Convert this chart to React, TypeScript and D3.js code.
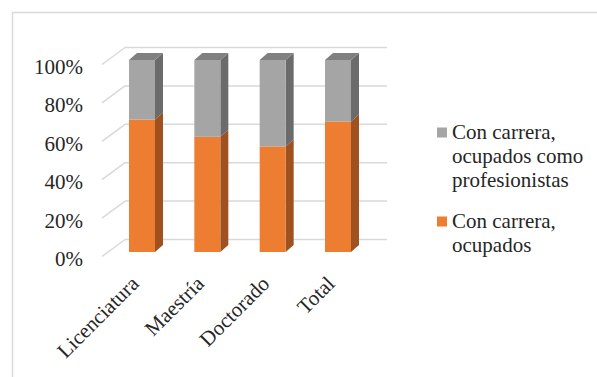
import React from "react";
import * as d3 from "d3";

const categories = ["Licenciatura", "Maestría", "Doctorado", "Total"];
const ocupados = [0.69, 0.6, 0.55, 0.68];
const profesionistas = [0.31, 0.4, 0.45, 0.32];
const yTicks = [0, 0.2, 0.4, 0.6, 0.8, 1];
const seriesNames = ["Con carrera, ocupados como profesionistas", "Con carrera, ocupados"];

const W = 597;
const H = 377;
const textStyle: React.CSSProperties = {
  fontFamily: '"Liberation Serif", "DejaVu Serif", serif',
  fontSize: 21,
};

const ORANGE = { front: "#ed7d31", side: "#9f521f" };
const GRAY = { front: "#a5a5a5", side: "#6b6b6b", top: "#808080" };

export default function App() {
  const y = d3.scaleLinear().domain([0, 1]).range([252, 60]);
  const x = d3.scalePoint<string>().domain(categories).range([142, 338]);
  const barW = 26;
  const depthX = 8;
  const depthY = -7;

  const wallX0 = 125;
  const wallX1 = 387;
  const floorX = 102;

  const poly = (pts: [number, number][]) => pts.map((p) => p.join(",")).join(" ");

  const legendItems = [
    { lines: ["Con carrera,", "ocupados como", "profesionistas"], base: 139, col: GRAY.front },
    { lines: ["Con carrera,", "ocupados"], base: 228, col: ORANGE.front },
  ];

  return (
    <svg
      width={W}
      height={H}
      style={{ position: "absolute", left: 0, top: 0, background: "#fff" }}
    >
      <rect x={12.5} y={12.5} width={W} height={H} fill="#fff" stroke="#d9d9d9" strokeWidth={1.5} />

      {/* gridlines: back wall plus floor diagonals */}
      {yTicks.map((t) => (
        <g key={t} stroke="#d9d9d9" strokeWidth={1.5} fill="none">
          <line x1={wallX0} x2={wallX1} y1={y(t) - 12.5} y2={y(t) - 12.5} />
          <line x1={floorX} y1={y(t) + 4.5} x2={wallX0} y2={y(t) - 12.5} />
        </g>
      ))}

      {/* y axis labels */}
      {yTicks.map((t) => (
        <text key={t} x={83} y={y(t) + 14} textAnchor="end" style={textStyle} fill="#262626">
          {d3.format(".0%")(t)}
        </text>
      ))}

      {/* stacked 3D bars */}
      {categories.map((c, i) => {
        const x0 = (x(c) as number) - barW / 2;
        const x1 = x0 + barW;
        const segs = [
          { lo: 0, hi: ocupados[i], col: ORANGE },
          { lo: ocupados[i], hi: ocupados[i] + profesionistas[i], col: GRAY },
        ];
        return (
          <g key={c}>
            {segs.map((s, j) => {
              const yb = y(s.lo);
              const yt = y(s.hi);
              return (
                <g key={j}>
                  <polygon
                    points={poly([
                      [x1, yt],
                      [x1 + depthX, yt + depthY],
                      [x1 + depthX, yb + depthY],
                      [x1, yb],
                    ])}
                    fill={s.col.side}
                  />
                  <rect x={x0} y={yt} width={barW} height={yb - yt} fill={s.col.front} />
                </g>
              );
            })}
            <polygon
              points={poly([
                [x0, y(1)],
                [x1, y(1)],
                [x1 + depthX, y(1) + depthY],
                [x0 + depthX, y(1) + depthY],
              ])}
              fill={GRAY.top}
            />
          </g>
        );
      })}

      {/* category labels */}
      {categories.map((c) => {
        const cx = (x(c) as number) - 2;
        const cy = 285;
        return (
          <text
            key={c}
            transform={`translate(${cx},${cy}) rotate(-45)`}
            textAnchor="end"
            style={textStyle}
            fill="#262626"
          >
            {c}
          </text>
        );
      })}

      {/* legend */}
      {legendItems.map((item, k) => (
        <g key={seriesNames[k]}>
          <rect x={437} y={item.base - 11.5} width={10} height={10} fill={item.col} />
          {item.lines.map((ln, m) => (
            <text key={m} x={452} y={item.base + m * 24} style={textStyle} fill="#262626">
              {ln}
            </text>
          ))}
        </g>
      ))}
    </svg>
  );
}
